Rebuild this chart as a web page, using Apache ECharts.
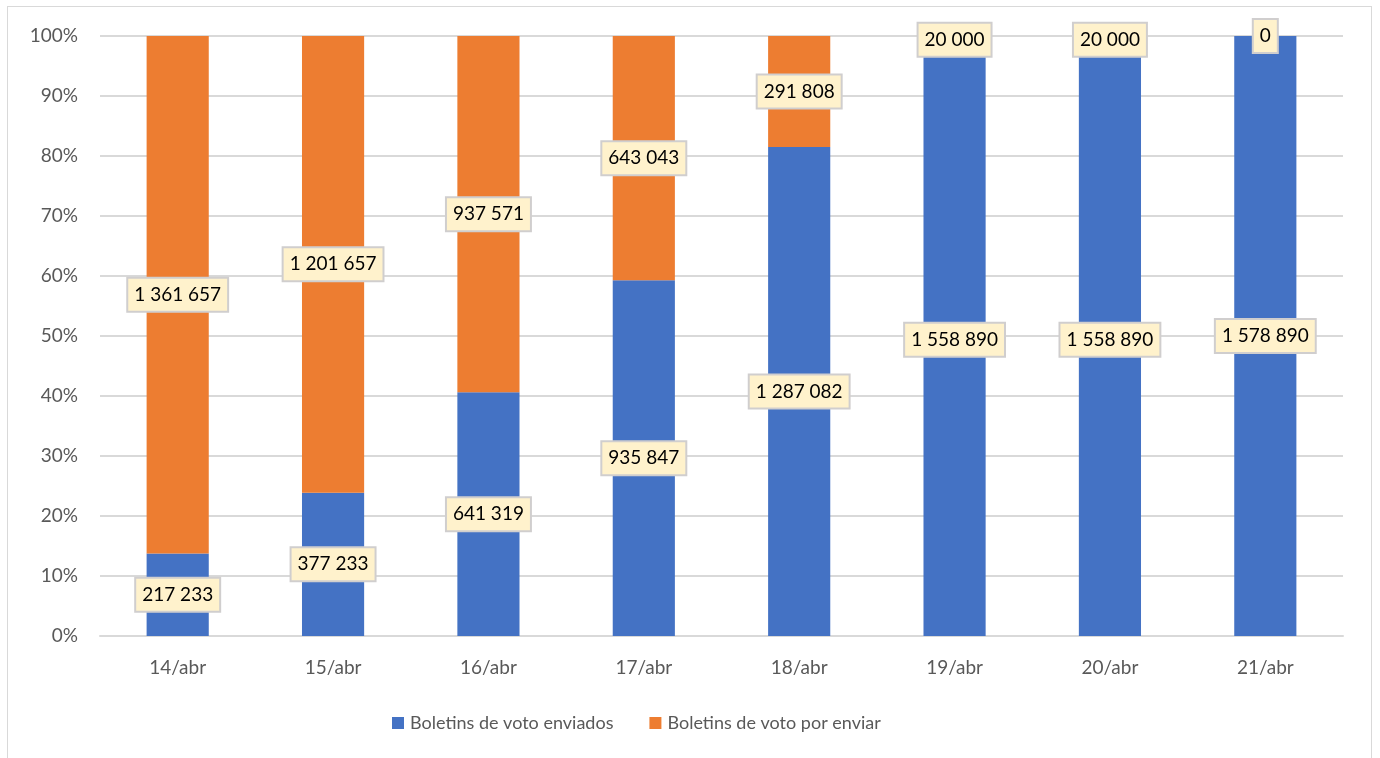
<!DOCTYPE html>
<html>
<head>
<meta charset="utf-8">
<script src="https://cdn.jsdelivr.net/npm/echarts@6/dist/echarts.min.js"></script>
<style>
  html, body { margin: 0; padding: 0; background: #fff; }
  #frame { position: absolute; left: 7px; top: 6px; width: 1365px; height: 760px; border: 1px solid #d9d9d9; box-sizing: border-box; }
  #chart { width: 1380px; height: 758px; }
</style>
</head>
<body>
<div id="frame"></div>
<div id="chart"></div>
<script>
// datas e valores
const days = ['14/abr', '15/abr', '16/abr', '17/abr', '18/abr', '19/abr', '20/abr', '21/abr']
const enviados = [217233, 377233, 641319, 935847, 1287082, 1558890, 1558890, 1578890]
const porEnviar = [1361657, 1201657, 937571, 643043, 291808, 20000, 20000, 0]
const yTicks = [0, 10, 20, 30, 40, 50, 60, 70, 80, 90, 100]

// percentagem de cada dia (100% empilhado)
const totals = enviados.map((v, i) => v + porEnviar[i])
const pctEnv = enviados.map((v, i) => v / totals[i] * 100)
const pctPor = porEnviar.map((v, i) => v / totals[i] * 100)

const fmt = n => String(n).replace(/\B(?=(\d{3})+(?!\d))/g, ' ')
const FONT = 'Lato'

const labelStyle = {
  show: true,
  position: 'inside',
  color: '#000',
  fontSize: 19,
  fontFamily: FONT,
  backgroundColor: '#FFF2CC',
  borderColor: '#D0CECE',
  borderWidth: 2,
  padding: [7, 6, 6, 6]
}

const chart = echarts.init(document.getElementById('chart'))
chart.setOption({
  animation: false,
  grid: { left: 100, right: 37, top: 36, bottom: 122 },
  legend: {
    left: 387,
    bottom: 21,
    itemWidth: 12,
    itemHeight: 12,
    itemGap: 36,
    icon: 'rect',
    textStyle: { color: '#595959', fontSize: 18, fontFamily: FONT, padding: [0, 0, 0, 1] },
    data: ['Boletins de voto enviados', 'Boletins de voto por enviar']
  },
  xAxis: {
    type: 'category',
    data: days,
    axisTick: { show: false },
    axisLine: { lineStyle: { color: '#d9d9d9', width: 2 } },
    axisLabel: { color: '#595959', fontSize: 19, fontFamily: FONT, margin: 22 }
  },
  yAxis: {
    type: 'value',
    min: yTicks[0],
    max: yTicks[yTicks.length - 1],
    interval: 10,
    axisLabel: { formatter: '{value}%', color: '#595959', fontSize: 19, fontFamily: FONT, margin: 22 },
    splitLine: { lineStyle: { color: '#d9d9d9', width: 2 } },
    axisLine: { show: false },
    axisTick: { show: false }
  },
  series: [
    {
      name: 'Boletins de voto enviados',
      type: 'bar',
      stack: 'total',
      barWidth: '40%',
      data: pctEnv,
      itemStyle: { color: '#4472C4' },
      label: Object.assign({}, labelStyle, { formatter: p => fmt(enviados[p.dataIndex]) })
    },
    {
      name: 'Boletins de voto por enviar',
      type: 'bar',
      stack: 'total',
      barWidth: '40%',
      data: pctPor,
      itemStyle: { color: '#ED7D31' },
      label: Object.assign({}, labelStyle, { formatter: p => fmt(porEnviar[p.dataIndex]) })
    }
  ]
})
</script>
</body>
</html>
